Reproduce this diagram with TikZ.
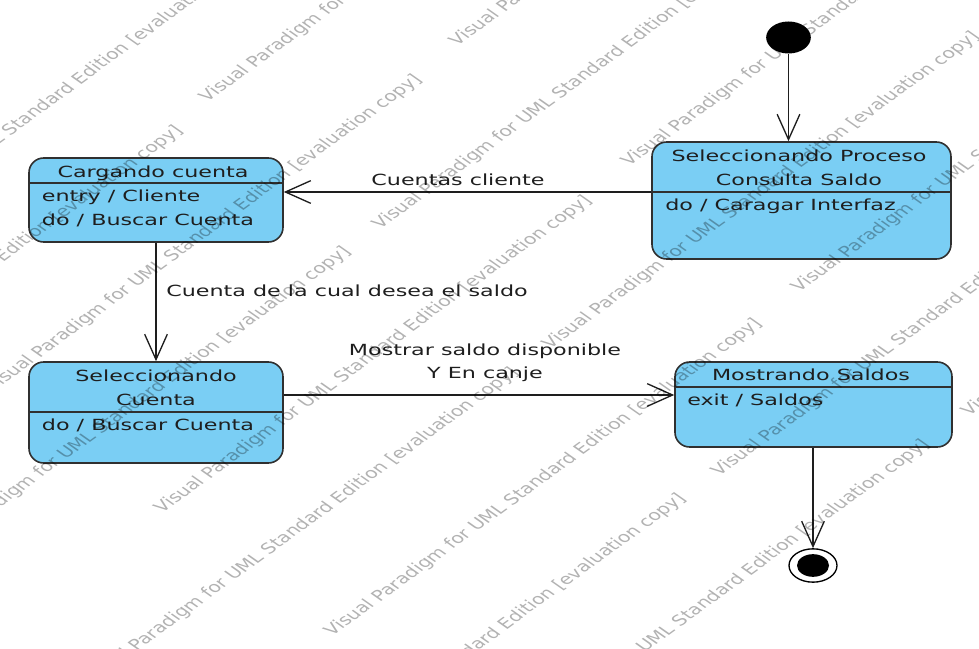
\documentclass[tikz,border=0pt]{standalone}
\usepackage{fontspec}
\setmainfont{DejaVu Sans}
\newfontfamily\vpfont{DejaVu Sans}[FakeStretch=1.45]
\usetikzlibrary{arrows.meta,shapes.geometric}
\definecolor{StateFill}{HTML}{7ACEF4}
\definecolor{StateLine}{HTML}{303030}
\definecolor{Ink}{HTML}{1E1E1E}

\begin{document}
\begin{tikzpicture}[x=0.75pt,y=-0.75pt,
    state/.style={draw=StateLine,fill=StateFill,line width=1.2pt,rounded corners=11pt,inner sep=0pt},
    slot/.style={inner sep=0pt,font=\vpfont\fontsize{11.5}{17.6}\selectfont,text=Ink},
    trans/.style={draw=Ink,line width=1pt,-{Straight Barb[length=19pt,width=17pt]}},
    wmark/.style={inner sep=0pt,anchor=base west,rotate=45.5,transform shape,
      font=\fontsize{11}{13}\selectfont,text=black,text opacity=0.3}]
  \useasboundingbox (0,0) rectangle (979,649);

  \node[ellipse,fill=black,minimum width=33.5pt,minimum height=24pt,inner sep=0pt] (init) at (788.5,37.5) {};
  \node[state,minimum width=224.25pt,minimum height=87.75pt] (s1) at (801.5,200.5) {};
  \node[state,minimum width=190.5pt,minimum height=63pt] (cc) at (156,200) {};
  \node[state,minimum width=190.5pt,minimum height=75.75pt] (sc) at (156,412.5) {};
  \node[state,minimum width=207.75pt,minimum height=63.75pt] (ms) at (813.5,404.5) {};
  \node[ellipse,draw=black,fill=white,line width=1pt,minimum width=36pt,minimum height=25pt,inner sep=0pt] (fin) at (813,565.5) {};
  \node[ellipse,fill=black,minimum width=24pt,minimum height=17pt,inner sep=0pt] (fincore) at (fin) {};

  % compartimentos
  \draw[StateLine,line width=1.2pt] (s1.west |- 0,192) -- (s1.east |- 0,192);
  \draw[StateLine,line width=1.2pt] (cc.west |- 0,183) -- (cc.east |- 0,183);
  \draw[StateLine,line width=1.2pt] (sc.west |- 0,412) -- (sc.east |- 0,412);
  \draw[StateLine,line width=1.2pt] (ms.west |- 0,387) -- (ms.east |- 0,387);

  \node[slot,anchor=north,align=center] (s1title) at (799,150) {Seleccionando Proceso\\Consulta Saldo};
  \node[slot,anchor=north west] (s1body) at (665,198.3) {do / Caragar Interfaz};
  \node[slot,anchor=north] (cctitle) at (153,165.3) {Cargando cuenta};
  \node[slot,anchor=north west,align=left] (ccbody) at (41.7,189.8) {entry / Cliente\\do / Buscar Cuenta};
  \node[slot,anchor=north,align=center] (sctitle) at (156,370) {Seleccionando\\Cuenta};
  \node[slot,anchor=north west] (scbody) at (41.7,418.3) {do / Buscar Cuenta};
  \node[slot,anchor=north] (mstitle) at (811,369) {Mostrando Saldos};
  \node[slot,anchor=north west] (msbody) at (687,393.3) {exit / Saldos};

  \draw[trans] (init) -- (init |- s1.north);
  \draw[trans] (s1.west |- 0,192) -- (cc.east |- 0,192);
  \draw[trans] (cc) -- (sc);
  \draw[trans] (sc.east |- 0,395) -- (ms.west |- 0,395);
  \draw[trans] (ms.south -| fin) -- (fin);

  \node[slot,anchor=base] (lblcuentas) at (458,186) {Cuentas cliente};
  \node[slot,anchor=base west] (lblsaldo) at (166,296.7) {Cuenta de la cual desea el saldo};
  \node[slot,anchor=north,align=center] (lblmostrar) at (485,343.3) {Mostrar saldo disponible\\Y En canje};

  % marca de agua
  \begin{scope}
    \clip (0,0) rectangle (979,649);
    \begin{scope}[xscale=1.4]
      \foreach \wx/\wy [count=\i] in {-170/267,-8/393,162/514,332/637,500/758,
          -247/444,-79/565,89/686,256/812,207/103,380/230,550/350,719/477,
          457/47,629/167,799/293,969/417}
        \node[wmark] (wm\i) at ({\wx/1.4},\wy) {Visual Paradigm for UML Standard Edition [evaluation copy]};
    \end{scope}
  \end{scope}
\end{tikzpicture}
\end{document}
